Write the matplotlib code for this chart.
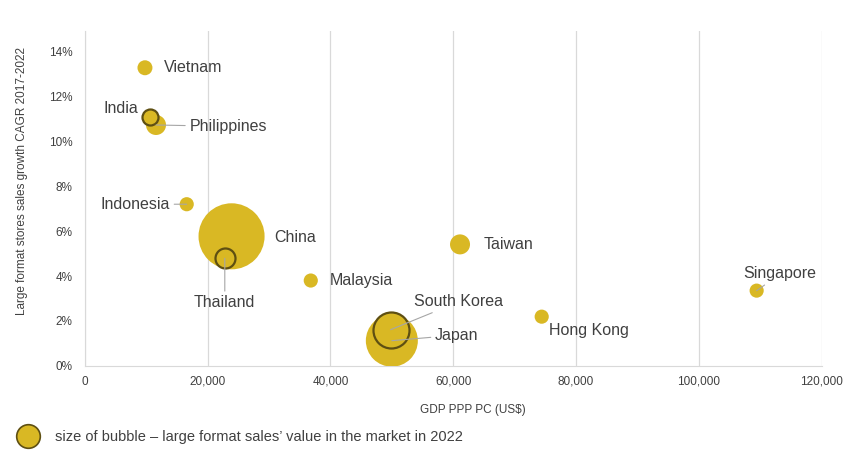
import matplotlib.pyplot as plt
from matplotlib.lines import Line2D
from matplotlib.ticker import FuncFormatter, MultipleLocator

plt.rcParams['font.family'] = ['Liberation Sans', 'DejaVu Sans']

# Data
countries = ['Vietnam', 'Philippines', 'India', 'Indonesia', 'China', 'Thailand',
             'Malaysia', 'Taiwan', 'Japan', 'South Korea', 'Hong Kong', 'Singapore']
gdp_ppp_pc = [9800, 11600, 10700, 16600, 23900, 22800,
              36800, 61100, 50000, 49800, 74400, 109400]
cagr = [0.1328, 0.1073, 0.1109, 0.0720, 0.0577, 0.0479,
        0.0380, 0.0541, 0.0112, 0.0161, 0.0219, 0.0335]
sales_value = [28, 50, 32, 25, 545, 50, 25, 50, 338, 162, 25, 25]
outlined = ['India', 'Thailand', 'South Korea']

# label placement: offset in points, horizontal alignment, leader line
label_offset = {
    'Vietnam': (14, 0, 'left', False),
    'India': (-9, 6, 'right', False),
    'Philippines': (24, -1, 'left', True),
    'Indonesia': (-12, 0, 'right', True),
    'China': (31, -1, 'left', False),
    'Thailand': (0, -32, 'center', True),
    'Malaysia': (14, 0, 'left', False),
    'Taiwan': (17, 0, 'left', False),
    'South Korea': (17, 20, 'left', True),
    'Japan': (31, 4, 'left', True),
    'Hong Kong': (5, -10, 'left', False),
    'Singapore': (17, 12, 'center', True),
}

gold = '#D9B824'
edge_dark = '#5E4F12'
text_col = '#404040'
grid_col = '#D9D9D9'

fig = plt.figure(figsize=(8.65, 4.55), dpi=100)
ax = fig.add_axes([0.098, 0.196, 0.852, 0.735])

size_scale = 4.15
for c, x, y, v in zip(countries, gdp_ppp_pc, cagr, sales_value):
    if c in outlined:
        ax.scatter(x, y, s=v * size_scale, color=gold, edgecolor=edge_dark,
                   linewidth=1.6, zorder=4)
    else:
        ax.scatter(x, y, s=v * size_scale, color=gold, edgecolor='none', zorder=3)

for c, x, y in zip(countries, gdp_ppp_pc, cagr):
    dx, dy, ha, leader = label_offset[c]
    arrow = dict(arrowstyle='-', color='#A6A6A6', lw=0.8, shrinkA=1, shrinkB=0) if leader else None
    ax.annotate(c, (x, y), xytext=(dx, dy), textcoords='offset points',
                ha=ha, va='center', fontsize=11.5, color=text_col,
                arrowprops=arrow, zorder=5)

ax.set_xlim(0, 120000)
ax.set_ylim(0, 0.149)
ax.xaxis.set_major_locator(MultipleLocator(20000))
ax.yaxis.set_major_locator(MultipleLocator(0.02))
ax.xaxis.set_major_formatter(FuncFormatter(lambda v, p: f'{v:,.0f}'))
ax.yaxis.set_major_formatter(FuncFormatter(lambda v, p: f'{v * 100:.0f}%'))
ax.grid(axis='x', color=grid_col, lw=0.9)
ax.set_axisbelow(True)
for s in ['top', 'right']:
    ax.spines[s].set_visible(False)
for s in ['left', 'bottom']:
    ax.spines[s].set_color(grid_col)
ax.tick_params(length=0, labelsize=8.5, colors=text_col)
ax.tick_params(axis='y', pad=9)
ax.tick_params(axis='x', pad=7)

ax.set_xlabel('GDP PPP PC (US$)', fontsize=8.5, color=text_col)
ax.xaxis.set_label_coords(0.527, -0.113)
ax.set_ylabel('Large format stores sales growth CAGR 2017-2022', fontsize=8.5,
              color=text_col)
ax.yaxis.set_label_coords(-0.077, 0.552)

handle = Line2D([], [], marker='o', linestyle='none', markersize=17,
                markerfacecolor=gold, markeredgecolor=edge_dark, markeredgewidth=1.2)
fig.legend([handle], ['size of bubble \u2013 large format sales\u2019 value in the market in 2022'],
           loc='center left', bbox_to_anchor=(0.0, 0.04), frameon=False,
           fontsize=10.5, labelcolor=text_col, handletextpad=0.9)

fig.savefig('out.png', dpi=100)
